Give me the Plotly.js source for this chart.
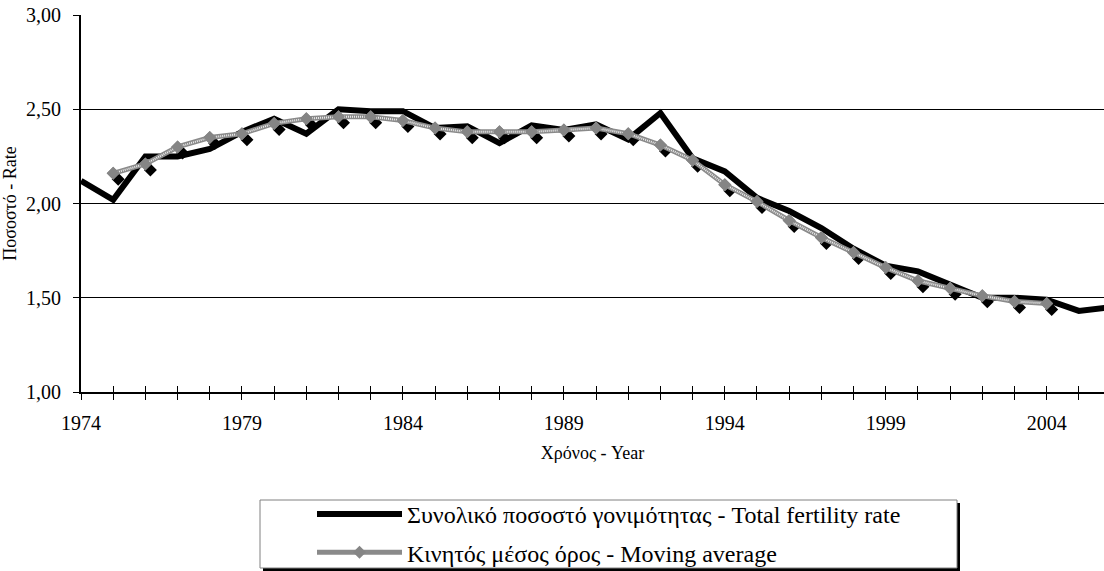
<!DOCTYPE html>
<html>
<head>
<meta charset="utf-8">
<script src="https://cdn.plot.ly/plotly-3.0.1.min.js"></script>
<style>html,body{margin:0;padding:0;background:#fff;}#chart{width:1104px;height:571px;}</style>
</head>
<body>
<div id="chart"></div>
<script>
// ---- data ----
const years = [1974,1975,1976,1977,1978,1979,1980,1981,1982,1983,1984,1985,1986,1987,1988,1989,1990,1991,1992,1993,1994,1995,1996,1997,1998,1999,2000,2001,2002,2003,2004,2005,2006];
const tfr = [2.12,2.02,2.25,2.25,2.29,2.38,2.45,2.37,2.50,2.49,2.49,2.40,2.41,2.32,2.415,2.39,2.42,2.34,2.48,2.24,2.17,2.03,1.96,1.87,1.76,1.67,1.64,1.57,1.50,1.50,1.49,1.43,1.45];
const maYears = [1975,1976,1977,1978,1979,1980,1981,1982,1983,1984,1985,1986,1987,1988,1989,1990,1991,1992,1993,1994,1995,1996,1997,1998,1999,2000,2001,2002,2003,2004];
const movingAvg = [2.16,2.21,2.30,2.35,2.37,2.425,2.45,2.46,2.46,2.44,2.40,2.38,2.38,2.38,2.39,2.40,2.37,2.31,2.23,2.10,2.01,1.91,1.82,1.74,1.66,1.59,1.55,1.51,1.48,1.47];
const yTicks = [1.0,1.5,2.0,2.5,3.0];
const labelYears = [1974,1979,1984,1989,1994,1999,2004];
const nameTfr = 'Συνολικό ποσοστό γονιμότητας - Total fertility rate';
const nameMa = 'Κινητός μέσος όρος - Moving average';
const xTitle = 'Χρόνος - Year';
const yTitle = 'Ποσοστό - Rate';

// ---- geometry ----
const W = 1104, H = 571;
const mL = 81, mR = 0, mT = 15, mB = 179;
const plotW = W - mL - mR, plotH = H - mT - mB;
const xMin = 1974, xMax = 1974 + plotW / 32.19;
const yMin = 1, yMax = 3;
// marker shadow offset (px -> data units)
const shX = 5 * (xMax - xMin) / plotW;
const shY = 6 * (yMax - yMin) / plotH;
const px2x = p => (p - mL) / plotW;
const px2y = p => (H - mB - p) / plotH;

const font = 'Liberation Serif';

const traces = [
  {x: years, y: tfr, name: nameTfr, legendgroup: 'a', mode: 'lines', line: {color: '#000', width: 6}, hoverinfo: 'skip'},
  {x: maYears.map(v => v + shX), y: movingAvg.map(v => v - shY), mode: 'markers', showlegend: false,
   marker: {symbol: 'diamond', size: 10, color: '#000'}, hoverinfo: 'skip'},
  {x: maYears, y: movingAvg, name: nameMa, legendgroup: 'b', mode: 'lines+markers', line: {color: '#8a8a8a', width: 5},
   marker: {symbol: 'diamond', size: 10, color: '#858585'}, hoverinfo: 'skip'},
  {x: maYears, y: movingAvg, mode: 'lines', showlegend: false, line: {color: '#eeeeee', width: 2, dash: '1px,1px'}, hoverinfo: 'skip'},
  {x: maYears, y: movingAvg, mode: 'markers', showlegend: false, marker: {symbol: 'diamond', size: 10, color: '#858585'}, hoverinfo: 'skip'},
  {x: [], y: [], xaxis: 'x2', showlegend: false, hoverinfo: 'skip'}
];

const layout = {
  width: W, height: H,
  margin: {l: mL, r: mR, t: mT, b: mB, autoexpand: false},
  paper_bgcolor: '#fff', plot_bgcolor: '#fff',
  font: {family: font, color: '#000', size: 20},
  separators: ',.',
  showlegend: true,
  xaxis: {
    range: [xMin, xMax], tickvals: labelYears, ticktext: labelYears.map(String),
    ticks: 'outside', ticklen: 6, tickcolor: '#000', tickwidth: 1,
    minor: {dtick: 1, tick0: 1974, ticks: 'outside', ticklen: 6, tickcolor: '#000', tickwidth: 1, showgrid: false},
    showline: true, linecolor: '#000', linewidth: 1.5, showgrid: false, zeroline: false,
    tickfont: {family: font, size: 20}, ticklabelstandoff: 6,
    title: {text: xTitle, font: {family: font, size: 18}, standoff: 14}
  },
  xaxis2: {
    overlaying: 'x', anchor: 'y', side: 'bottom', range: [xMin, xMax], dtick: 1, tick0: 1974,
    ticks: 'inside', ticklen: 6, tickcolor: '#000', tickwidth: 1, showticklabels: false,
    showline: false, showgrid: false, zeroline: false
  },
  yaxis: {
    range: [yMin, yMax], tickvals: yTicks, tickformat: '.2f',
    ticks: 'outside', ticklen: 6, tickcolor: '#000', tickwidth: 1,
    showline: true, linecolor: '#000', linewidth: 2,
    showgrid: true, gridcolor: '#000', gridwidth: 1, zeroline: false,
    tickfont: {family: font, size: 20}, ticklabelstandoff: 8,
    title: {text: yTitle, font: {family: font, size: 18}, standoff: 8}
  },
  legend: {
    x: px2x(312), y: px2y(492), xanchor: 'left', yanchor: 'top',
    bgcolor: 'rgba(0,0,0,0)', borderwidth: 0, traceorder: 'grouped',
    font: {size: 24, family: font}, itemwidth: 85, tracegroupgap: 4
  },
  shapes: [
    {type: 'rect', xref: 'paper', yref: 'paper', x0: px2x(263), x1: px2x(960), y0: px2y(503), y1: px2y(571),
     fillcolor: '#000', line: {width: 0}, layer: 'above'},
    {type: 'rect', xref: 'paper', yref: 'paper', x0: px2x(260), x1: px2x(957), y0: px2y(500), y1: px2y(568),
     fillcolor: '#fff', line: {color: '#808080', width: 1}, layer: 'above'}
  ]
};

Plotly.newPlot('chart', traces, layout, {staticPlot: true, displayModeBar: false});
</script>
</body>
</html>
